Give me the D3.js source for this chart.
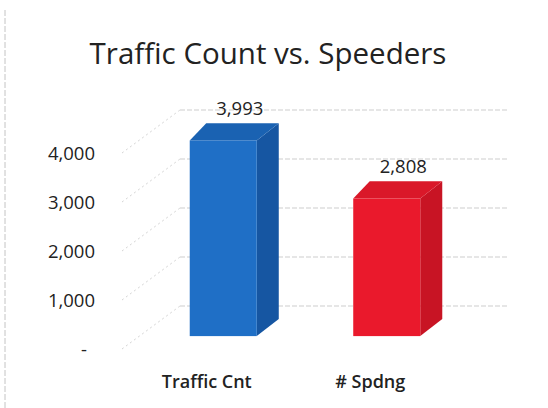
<!DOCTYPE html>
<html>
<head>
<meta charset="utf-8">
<script src="https://cdn.jsdelivr.net/npm/d3@7"></script>
<style>
  html, body { margin: 0; padding: 0; background: #ffffff; }
  svg { display: block; }
</style>
</head>
<body>
<svg id="chart" width="548" height="408"></svg>
<script>
// ---- data ----
const categories = ["Traffic Cnt", "# Spdng"];
const values = [3993, 2808];
const valueLabels = ["3,993", "2,808"];
const tickValues = [0, 1000, 2000, 3000, 4000];
const tickLabels = ["-", "1,000", "2,000", "3,000", "4,000"];
const title = "Traffic Count vs. Speeders";

// ---- layout ----
const W = 548, H = 408;
const svg = d3.select("#chart");
const font = "'Open Sans', 'Noto Sans', sans-serif";

// floor depth (oblique projection)
const DX = 55, DY = -43;
const bar0 = 0.3, bar1 = 0.7; // bar depth extent as fraction of floor depth

const x = d3.scaleBand().domain(categories).range([125, 452])
  .paddingInner(0.59).paddingOuter(0.295);
const y = d3.scaleLinear().domain([0, 4000]).range([349, 153]);

const colors = [
  { front: "#1f6fc6", side: "#1656a2", top: "#1a62b2" },
  { front: "#ea192c", side: "#c81424", top: "#da1829" }
];

// title
svg.append("text")
  .attr("x", 268).attr("y", 64)
  .attr("text-anchor", "middle")
  .attr("font-family", font)
  .attr("font-size", 29.5)
  .attr("fill", "#222")
  .text(title);

// left scan edge line
svg.append("line")
  .attr("x1", 5).attr("x2", 5).attr("y1", 10).attr("y2", 408)
  .attr("stroke", "#c4c4c4").attr("stroke-width", 1)
  .attr("stroke-dasharray", "6,2");

const grid = svg.append("g");
// back wall gridlines
grid.selectAll("line.back").data(tickValues).join("line")
  .attr("class", "back")
  .attr("x1", x.range()[0] + DX).attr("x2", x.range()[1] + DX)
  .attr("y1", d => y(d) + DY).attr("y2", d => y(d) + DY)
  .attr("stroke", "#cdcdcd").attr("stroke-width", 1)
  .attr("stroke-dasharray", "5,2");
// side wall diagonals
grid.selectAll("line.side").data(tickValues).join("line")
  .attr("class", "side")
  .attr("x1", x.range()[0] - 3).attr("x2", x.range()[0] + DX)
  .attr("y1", d => y(d)).attr("y2", d => y(d) + DY)
  .attr("stroke", "#d4d4d4").attr("stroke-width", 1)
  .attr("stroke-dasharray", "2,3");

// y tick labels
svg.append("g").selectAll("text").data(tickValues).join("text")
  .attr("x", (d, i) => d === 0 ? 87 : 95)
  .attr("y", d => y(d) + 7)
  .attr("text-anchor", "end")
  .attr("font-family", font)
  .attr("font-size", 18.5)
  .attr("fill", "#222")
  .text((d, i) => tickLabels[i]);

// bars
const bars = svg.append("g").selectAll("g").data(values).join("g");
bars.each(function (v, i) {
  const g = d3.select(this);
  const c = colors[i];
  const x0 = x(categories[i]) + DX * bar0;
  const x1 = x0 + x.bandwidth();
  const yb = y(0) + DY * bar0;
  const yt = y(v) + DY * bar0;
  const ddx = DX * (bar1 - bar0), ddy = DY * (bar1 - bar0);
  // side
  g.append("path")
    .attr("d", `M${x1},${yt}L${x1 + ddx},${yt + ddy}L${x1 + ddx},${yb + ddy}L${x1},${yb}Z`)
    .attr("fill", c.side);
  // top
  g.append("path")
    .attr("d", `M${x0},${yt}L${x0 + ddx * 0.75},${yt + ddy}L${x1 + ddx},${yt + ddy}L${x1},${yt}Z`)
    .attr("fill", c.top);
  // front
  g.append("rect")
    .attr("x", x0).attr("y", yt)
    .attr("width", x.bandwidth()).attr("height", yb - yt)
    .attr("fill", c.front);
  // value label
  g.append("text")
    .attr("x", x0 + x.bandwidth() / 2 + ddx * 0.75)
    .attr("y", yt + ddy - 8)
    .attr("text-anchor", "middle")
    .attr("font-family", font)
    .attr("font-size", 18.5)
    .attr("fill", "#222")
    .text(valueLabels[i]);
});

// category labels
svg.append("g").selectAll("text").data(categories).join("text")
  .attr("x", d => x(d) + x.bandwidth() / 2)
  .attr("y", 388)
  .attr("text-anchor", "middle")
  .attr("font-family", font)
  .attr("font-size", 18)
  .attr("font-weight", 600)
  .attr("fill", "#222")
  .text(d => d);
</script>
</body>
</html>
